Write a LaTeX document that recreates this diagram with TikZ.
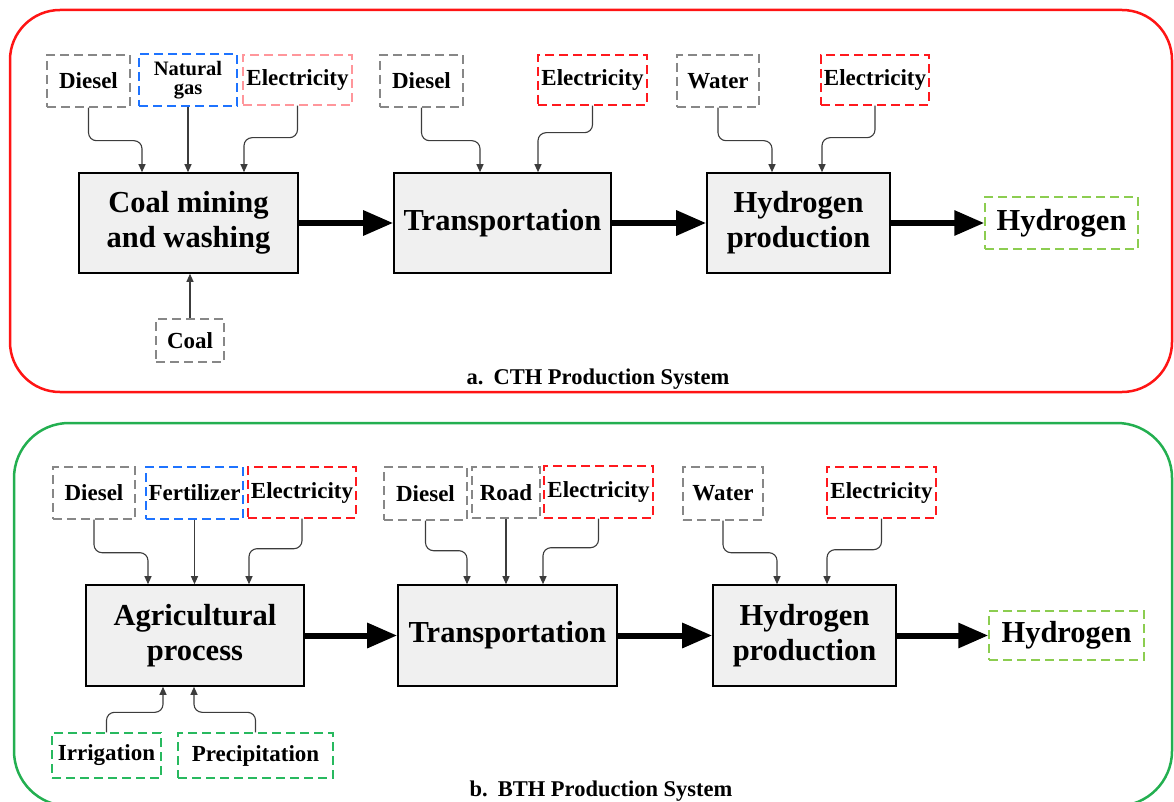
\documentclass[tikz,border=0pt]{standalone}
\usepackage{fontspec}
\setmainfont{Liberation Serif}
\usetikzlibrary{arrows.meta}

\definecolor{dgray}{RGB}{135,135,135}
\definecolor{dblue}{RGB}{30,115,255}
\definecolor{dpink}{RGB}{255,150,155}
\definecolor{dred}{RGB}{255,25,30}
\definecolor{dlime}{RGB}{140,205,80}
\definecolor{dgreen}{RGB}{40,185,95}
\definecolor{procfill}{RGB}{240,240,240}
\definecolor{feedgray}{RGB}{60,60,60}
\definecolor{panelred}{RGB}{255,20,20}
\definecolor{panelgreen}{RGB}{35,175,80}

\begin{document}
\begin{tikzpicture}[x=1pt,y=-1pt,
  srcbox/.style={draw=#1, dash pattern=on 9pt off 5pt, line width=1.4pt,
    inner sep=0pt, align=center, font=\fontsize{23}{17}\selectfont\bfseries},
  procbox/.style={draw=black, fill=procfill, line width=1.6pt, inner sep=0pt,
    align=center, font=\fontsize{30.5}{35}\selectfont\bfseries},
  bigtext/.style={font=\fontsize{30.5}{35}\selectfont\bfseries},
  feed/.style={draw=feedgray, line width=1.1pt, rounded corners=8pt,
    -{Triangle[length=8pt,width=7pt]}},
  flow/.style={line width=6pt, -{Triangle[length=30pt,width=24pt]}},
  panel/.style={line width=2.5pt, rounded corners=50pt},
  caption/.style={font=\fontsize{22.5}{24}\selectfont\bfseries}
]
\useasboundingbox (0,0) rectangle (1174,802);

% ---------- panel frames ----------
\draw[panel, draw=panelred] (10,10) rectangle (1172,392);
\draw[panel, draw=panelgreen, rounded corners=55pt] (14,423) rectangle (1172,806);

% ================= a. CTH production system =================
\node[srcbox=dgray, minimum width=83pt, minimum height=52pt] (ad1) at (88.5,81) {Diesel};
\node[srcbox=dblue, minimum width=98pt, minimum height=52pt,
      font=\fontsize{20.5}{19}\selectfont\bfseries] (ang) at (188,80) {Natural\\gas};
\node[srcbox=dpink, minimum width=109pt, minimum height=50pt] (ael1) at (297.5,80) {Electricity};
\node[srcbox=dgray, minimum width=83pt, minimum height=52pt] (ad2) at (421.5,81) {Diesel};
\node[srcbox=dred, minimum width=109pt, minimum height=50pt] (ael2) at (592.5,80) {Electricity};
\node[srcbox=dgray, minimum width=82pt, minimum height=52pt] (awa) at (718,81) {Water};
\node[srcbox=dred, minimum width=108pt, minimum height=50pt] (ael3) at (875,80) {Electricity};

\node[procbox, minimum width=219pt, minimum height=100pt] (acm) at (188.5,223) {Coal mining\\and washing};
\node[procbox, minimum width=217pt, minimum height=100pt] (atr) at (502.5,223) {Transportation};
\node[procbox, minimum width=183pt, minimum height=100pt] (ahp) at (798.5,223) {Hydrogen\\production};
\node[srcbox=dlime, minimum width=153pt, minimum height=52pt, bigtext] (ah2) at (1061.5,223) {Hydrogen};
\node[srcbox=dgray, minimum width=68pt, minimum height=43pt] (acoal) at (190,340.5) {Coal};

\draw[feed] (ad1.south) -- ++(0,33) -| ([xshift=-46.5pt]acm.north);
\draw[feed] (ang.south) -- (ang.south |- acm.north);
\draw[feed] (ael1.south) -- ++(0,32) -| ([xshift=55.5pt]acm.north);
\draw[feed] (ad2.south) -- ++(0,33) -| ([xshift=-22.5pt]atr.north);
\draw[feed] (ael2.south) -- ++(0,27) -| ([xshift=35.5pt]atr.north);
\draw[feed] (awa.south) -- ++(0,33) -| ([xshift=-26.5pt]ahp.north);
\draw[feed] (ael3.south) -- ++(0,32) -| ([xshift=23.5pt]ahp.north);
\draw[feed] (acoal.north) -- (acoal.north |- acm.south);

\draw[flow] (acm.east) -- (atr.west);
\draw[flow] (atr.east) -- (ahp.west);
\draw[flow] (ahp.east) -- (ah2.west);

\node[caption] (capa) at (598,379) {a.\hspace{10pt}CTH Production System};

% ================= b. BTH production system =================
\node[srcbox=dgray, minimum width=82pt, minimum height=52pt] (bd1) at (94,493) {Diesel};
\node[srcbox=dblue, minimum width=97pt, minimum height=52pt] (bfe) at (194.5,493) {Fertilizer};
\node[srcbox=dred, minimum width=108pt, minimum height=51pt] (bel1) at (302,492.5) {Electricity};
\node[srcbox=dgray, minimum width=83pt, minimum height=53pt] (bd2) at (425.5,493.5) {Diesel};
\node[srcbox=dgray, minimum width=68pt, minimum height=51pt] (brd) at (506,492.5) {Road};
\node[srcbox=dred, minimum width=109pt, minimum height=52pt] (bel2) at (598.5,492) {Electricity};
\node[srcbox=dgray, minimum width=80pt, minimum height=53pt] (bwa) at (723,493.5) {Water};
\node[srcbox=dred, minimum width=109pt, minimum height=51pt] (bel3) at (881.5,492.5) {Electricity};

\node[procbox, minimum width=218pt, minimum height=101pt] (bag) at (195,635.5) {Agricultural\\process};
\node[procbox, minimum width=219pt, minimum height=101pt] (btr) at (507.5,635.5) {Transportation};
\node[procbox, minimum width=183pt, minimum height=101pt] (bhp) at (804.5,635.5) {Hydrogen\\production};
\node[srcbox=dlime, minimum width=155pt, minimum height=49pt, bigtext] (bh2) at (1066.5,635.5) {Hydrogen};
\node[srcbox=dgreen, minimum width=109pt, minimum height=45pt] (bir) at (106.5,755.5) {Irrigation};
\node[srcbox=dgreen, minimum width=155pt, minimum height=45pt] (bpr) at (255.5,755.5) {Precipitation};

\draw[feed] (bd1.south) -- ++(0,33) -| ([xshift=-47pt]bag.north);
\draw[feed] (bfe.south) -- (bfe.south |- bag.north);
\draw[feed] (bel1.south) -- ++(0,30) -| ([xshift=54pt]bag.north);
\draw[feed] (bd2.south) -- ++(0,30) -| ([xshift=-40.5pt]btr.north);
\draw[feed] (brd.south) -- (brd.south |- btr.north);
\draw[feed] (bel2.south) -- ++(0,29) -| ([xshift=35.5pt]btr.north);
\draw[feed] (bwa.south) -- ++(0,32) -| ([xshift=-27.5pt]bhp.north);
\draw[feed] (bel3.south) -- ++(0,31) -| ([xshift=22.5pt]bhp.north);
\draw[feed] (bir.north) -- ++(0,-20) -| ([xshift=-32pt]bag.south);
\draw[feed] (bpr.north) -- ++(0,-20) -| ([xshift=-1pt]bag.south);

\draw[flow] (bag.east) -- (btr.west);
\draw[flow] (btr.east) -- (bhp.west);
\draw[flow] (bhp.east) -- (bh2.west);

\node[caption] (capb) at (601,791) {b.\hspace{10pt}BTH Production System};
\end{tikzpicture}
\end{document}
